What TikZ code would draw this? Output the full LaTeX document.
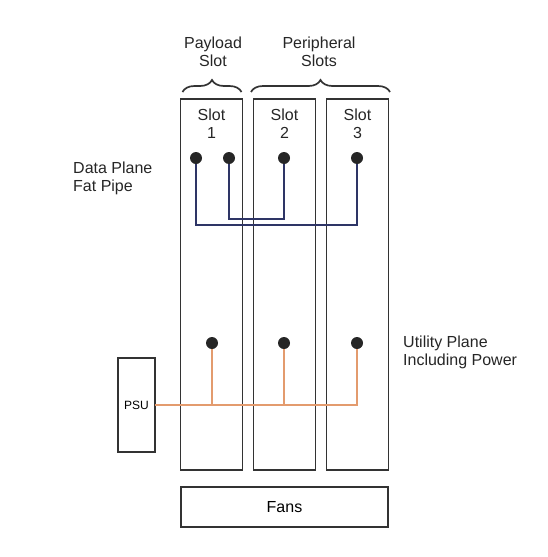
\documentclass[tikz,border=0pt]{standalone}
\usepackage{fontspec}
\setmainfont{Liberation Sans}
\usepackage{xcolor}
\usepackage{tikz}
\usetikzlibrary{positioning, decorations.pathreplacing}

\definecolor{boxgray}{HTML}{333333}
\definecolor{datablue}{HTML}{2E3566}
\definecolor{powerorange}{HTML}{E39B6E}

\begin{document}
\begin{tikzpicture}[
        x=1pt, y=-1pt,
        node distance=11pt,
        font=\fontsize{16}{18}\selectfont,
        slotbox/.style={
            draw=boxgray,
            line width=1.2pt,
            minimum width=62pt,
            minimum height=371pt,
            inner sep=0pt,
            outer sep=0pt
        },
        plaintext/.style={
            align=center,
            inner sep=0pt,
            text=black!85
        },
        dot/.style={
            circle,
            fill=black!85,
            minimum size=12pt,
            inner sep=0pt
        },
        dataline/.style={draw=datablue, line width=1.3pt},
        powerline/.style={draw=powerorange, line width=1.3pt},
        curly/.style={
            decorate,
            decoration={brace, amplitude=12pt},
            draw=boxgray,
            line width=1.7pt
        }
    ]
        \useasboundingbox (0,0) rectangle (548,557);

        \node[slotbox] (slot1) at (211.5,284.5) {};
        \node[slotbox, right=of slot1] (slot2) {};
        \node[slotbox, right=of slot2] (slot3) {};
        \node[slotbox, minimum width=207pt, minimum height=40pt] (fans) at (284.5,507) {Fans};
        \node[slotbox, minimum width=37pt, minimum height=94pt, font=\fontsize{12}{14}\selectfont] (psu) at (136.5,405) {PSU};

        \node[plaintext, below=10pt of slot1.north] (name1) {Slot\\1};
        \node[plaintext, below=10pt of slot2.north] (name2) {Slot\\2};
        \node[plaintext, below=10pt of slot3.north] (name3) {Slot\\3};

        \draw[curly] ([xshift=2pt, yshift=7pt]slot1.north west) -- ([xshift=-1pt, yshift=7pt]slot1.north east);
        \draw[curly] ([xshift=-2.5pt, yshift=7pt]slot2.north west) -- ([xshift=1.5pt, yshift=7pt]slot3.north east);

        \node[plaintext] (payload) at (213,52) {Payload\\Slot};
        \node[plaintext] (periph) at (319,52) {Peripheral\\Slots};
        \node[plaintext, anchor=west, align=left] (datalbl) at (73,178) {Data Plane\\Fat Pipe};
        \node[plaintext, anchor=west, align=left] (utillbl) at (403,352) {Utility Plane\\Including Power};

        \node[dot] (d1a) at (196,158) {};
        \node[dot] (d1b) at (229,158) {};
        \node[dot] (d2) at (284,158) {};
        \node[dot] (d3) at (357,158) {};
        \node[dot] (u1) at (212,343) {};
        \node[dot] (u2) at (284,343) {};
        \node[dot] (u3) at (357,343) {};

        \coordinate (outerrun) at (0,225);
        \coordinate (innerrun) at (0,219);
        \draw[dataline] (d1a) -- (d1a |- outerrun) -| (d3);
        \draw[dataline] (d1b) -- (d1b |- innerrun) -| (d2);

        \draw[powerline] (psu) -| (u3);
        \draw[powerline] (u1) -- (u1 |- psu);
        \draw[powerline] (u2) -- (u2 |- psu);
    \end{tikzpicture}
\end{document}
